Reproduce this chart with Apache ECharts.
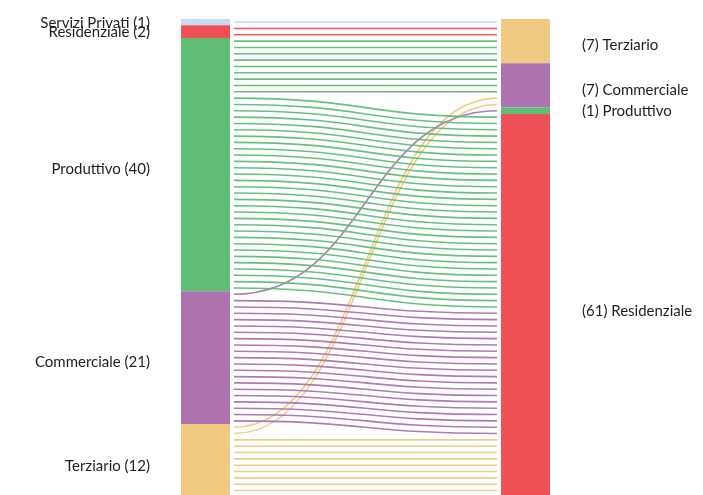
<!DOCTYPE html>
<html>
<head>
<meta charset="utf-8">
<script src="https://cdn.jsdelivr.net/npm/echarts@6/dist/echarts.min.js"></script>
<style>
  html, body { margin: 0; padding: 0; background: #fff; overflow: hidden; }
  #chart { width: 703px; height: 495px; }
</style>
</head>
<body>
<div id="chart"></div>
<script>
// categorie di partenza (sinistra) e di arrivo (destra)
const sourceNames = ['Servizi Privati', 'Residenziale', 'Produttivo', 'Commerciale', 'Terziario'];
const targetNames = ['Terziario', 'Commerciale', 'Produttivo', 'Residenziale'];

// flussi, nell'ordine in cui arrivano sul lato destro
const flowSource = ['Servizi Privati', 'Residenziale', 'Produttivo', 'Produttivo', 'Terziario', 'Commerciale', 'Produttivo', 'Commerciale', 'Terziario'];
const flowTarget = ['Terziario', 'Terziario', 'Terziario', 'Commerciale', 'Commerciale', 'Produttivo', 'Residenziale', 'Residenziale', 'Residenziale'];
const flowCount = [1, 2, 4, 5, 2, 1, 31, 20, 10];

const colors = {
  'Servizi Privati': '#c8dcf1',
  'Residenziale': '#ef5256',
  'Produttivo': '#60bd76',
  'Commerciale': '#ac73ae',
  'Terziario': '#f0c983'
};

const total = flowCount.reduce((a, b) => a + b, 0);

// totali per nodo
const sumBy = (names, key) => names.map(n =>
  flowCount.reduce((s, c, i) => s + (key[i] === n ? c : 0), 0));
const sourceTotals = sumBy(sourceNames, flowSource);
const targetTotals = sumBy(targetNames, flowTarget);

// posizione iniziale di ogni nodo (in unità)
const starts = totals => totals.map((t, i) => totals.slice(0, i).reduce((a, b) => a + b, 0));
const sourceStart = starts(sourceTotals);
const targetStart = starts(targetTotals);

// blocchi dei nodi: [lato, inizio, quantità, nome]
const nodeData = [];
sourceNames.forEach((n, i) => nodeData.push([0, sourceStart[i], sourceTotals[i], n]));
targetNames.forEach((n, i) => nodeData.push([1, targetStart[i], targetTotals[i], n]));

// una linea per ogni unità: [slot sinistro, slot destro, categoria]
const srcCursor = sourceStart.slice();
const lineData = [];
// a sinistra le linee sono ordinate per destinazione
const order = flowCount.map((c, i) => i);
const leftSlot = {};
targetNames.forEach(t => {
  order.filter(i => flowTarget[i] === t).forEach(i => {
    const si = sourceNames.indexOf(flowSource[i]);
    leftSlot[i] = srcCursor[si];
    srcCursor[si] += flowCount[i];
  });
});
let rightCursor = 0;
order.forEach(i => {
  for (let k = 0; k < flowCount[i]; k++) {
    lineData.push([leftSlot[i] + k, rightCursor + k, flowSource[i]]);
  }
  rightCursor += flowCount[i];
});

const chart = echarts.init(document.getElementById('chart'));

chart.setOption({
  animation: false,
  // il grafico originale è tagliato in basso di qualche pixel
  grid: { left: 181, width: 369, top: 19, height: 481, outerBoundsMode: 'none', containLabel: false },
  xAxis: { type: 'value', min: 0, max: 369, show: false },
  yAxis: { type: 'value', min: 0, max: total, inverse: true, show: false },
  series: [
    {
      type: 'custom',
      data: lineData,
      renderItem: (params, api) => {
        const p1 = api.coord([53, api.value(0) + 0.5]);
        const p2 = api.coord([316, api.value(1) + 0.5]);
        const mx = (p1[0] + p2[0]) / 2;
        return {
          type: 'bezierCurve',
          shape: { x1: p1[0], y1: p1[1], x2: p2[0], y2: p2[1], cpx1: mx, cpy1: p1[1], cpx2: mx, cpy2: p2[1] },
          style: { stroke: colors[lineData[params.dataIndex][2]], lineWidth: 1.6, fill: null, opacity: 0.95 }
        };
      }
    },
    {
      type: 'custom',
      data: nodeData,
      renderItem: (params, api) => {
        const d = nodeData[params.dataIndex];
        const left = d[0] === 0;
        const a = api.coord([left ? 0 : 320, d[1]]);
        const b = api.coord([left ? 49 : 369, d[1] + d[2]]);
        const cy = (a[1] + b[1]) / 2 + (d[2] >= 5 ? 4.5 : 0.5);
        return {
          type: 'group',
          children: [
            { type: 'rect', shape: { x: a[0], y: a[1], width: b[0] - a[0], height: b[1] - a[1] }, style: { fill: colors[d[3]] } },
            {
              type: 'text',
              style: {
                x: left ? a[0] - 31 : b[0] + 32,
                y: cy,
                text: left ? d[3] + ' (' + d[2] + ')' : '(' + d[2] + ') ' + d[3],
                align: left ? 'right' : 'left',
                verticalAlign: 'middle',
                fill: '#1f1f1f',
                font: '15px Lato'
              }
            }
          ]
        };
      }
    }
  ]
});
</script>
</body>
</html>
